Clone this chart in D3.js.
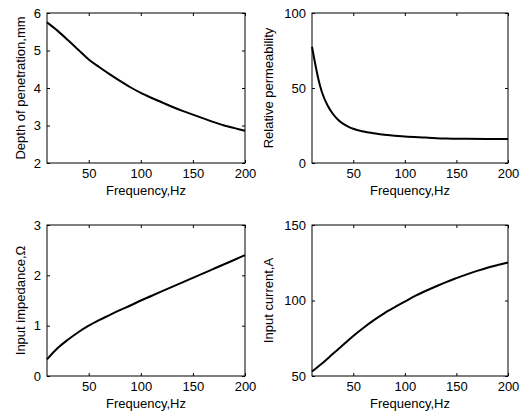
<!DOCTYPE html>
<html>
<head>
<meta charset="utf-8">
<script src="https://cdn.jsdelivr.net/npm/d3@7"></script>
<style>
  body { margin: 0; background: #fff; }
  text { font-family: "Liberation Sans", Arial, sans-serif; font-size: 13px; fill: #000; }
</style>
</head>
<body>
<svg id="chart" width="521" height="418"></svg>
<script>
// ----------------- DATA ----------------- //
var freqTicks = [50, 100, 150, 200];

var depthFreq = [10, 20, 30, 40, 50, 60, 70, 80, 90, 100, 110, 120, 130, 140, 150, 160, 170, 180, 190, 200];
var depth = [5.75, 5.53, 5.28, 5.02, 4.76, 4.56, 4.37, 4.19, 4.02, 3.87, 3.74, 3.62, 3.5, 3.39, 3.29, 3.19, 3.09, 3.0, 2.93, 2.86];

var permFreq = [10, 12, 14, 16, 18, 20, 25, 30, 35, 40, 45, 50, 60, 70, 80, 90, 100, 120, 140, 160, 180, 200];
var permeability = [77.5, 70, 63, 56.5, 51, 46.5, 38.5, 33, 29, 26.2, 24.3, 22.8, 21, 19.8, 18.8, 18.2, 17.7, 17, 16.3, 16.1, 16, 16];

var impFreq = [10, 20, 30, 40, 50, 60, 70, 80, 90, 100, 110, 120, 130, 140, 150, 160, 170, 180, 190, 200];
var impedance = [0.33, 0.55, 0.72, 0.87, 1.0, 1.11, 1.21, 1.31, 1.4, 1.5, 1.59, 1.68, 1.77, 1.86, 1.95, 2.04, 2.13, 2.22, 2.31, 2.4];

var curFreq = [10, 20, 30, 40, 50, 60, 70, 80, 90, 100, 110, 120, 130, 140, 150, 160, 170, 180, 190, 200];
var current = [53, 58.5, 64.5, 70.5, 76.5, 82, 87, 91.5, 95.5, 99.3, 103, 106.3, 109.3, 112.2, 114.8, 117.3, 119.6, 121.7, 123.5, 125.2];

// panel setup: box position, y-range and label
var panels = [
    { x: depthFreq, y: depth, yDomain: [2, 6], yTicks: [2, 3, 4, 5, 6], yLabel: 'Depth of penetration,mm',
      left: 47, right: 245, top: 13, bottom: 163, labelX: 25 },
    { x: permFreq, y: permeability, yDomain: [0, 100], yTicks: [0, 50, 100], yLabel: 'Relative permeability',
      left: 312, right: 508, top: 13, bottom: 163, labelX: 273 },
    { x: impFreq, y: impedance, yDomain: [0, 3], yTicks: [0, 1, 2, 3], yLabel: 'Input impedance,\u03A9',
      left: 47, right: 245, top: 225, bottom: 376, labelX: 25 },
    { x: curFreq, y: current, yDomain: [50, 150], yTicks: [50, 100, 150], yLabel: 'Input current,A',
      left: 312, right: 508, top: 225, bottom: 376, labelX: 273 }
];

var svg = d3.select('#chart');
svg.append('rect').attr('width', 521).attr('height', 418).attr('fill', '#fff');

// ----------------- DRAW PANELS ----------------- //
panels.forEach(function (p) {
    var x = d3.scaleLinear().domain([10, 200]).range([p.left, p.right]);
    var y = d3.scaleLinear().domain(p.yDomain).range([p.bottom, p.top]);
    var g = svg.append('g');
    var fmt = d3.format('d');

    // inward ticks on all four sides, labels only bottom/left
    g.append('g')
        .attr('transform', 'translate(0,' + p.bottom + ')')
        .call(d3.axisBottom(x).tickValues(freqTicks).tickFormat(fmt).tickSizeInner(-3).tickSizeOuter(0).tickPadding(6));
    g.append('g')
        .attr('transform', 'translate(0,' + p.top + ')')
        .call(d3.axisTop(x).tickValues(freqTicks).tickSizeInner(-3).tickSizeOuter(0).tickFormat(''));
    g.append('g')
        .attr('transform', 'translate(' + p.left + ',0)')
        .call(d3.axisLeft(y).tickValues(p.yTicks).tickFormat(fmt).tickSizeInner(-3).tickSizeOuter(0).tickPadding(6));
    g.append('g')
        .attr('transform', 'translate(' + p.right + ',0)')
        .call(d3.axisRight(y).tickValues(p.yTicks).tickSizeInner(-3).tickSizeOuter(0).tickFormat(''));

    g.selectAll('.domain').remove();
    g.selectAll('.tick line').attr('stroke', '#000');
    g.selectAll('.tick text')
        .attr('font-family', '"Liberation Sans", Arial, sans-serif')
        .attr('font-size', 13)
        .attr('fill', '#000');

    g.append('rect')
        .attr('x', p.left).attr('y', p.top)
        .attr('width', p.right - p.left).attr('height', p.bottom - p.top)
        .attr('fill', 'none').attr('stroke', '#000').attr('stroke-width', 1);

    var line = d3.line()
        .x(function (d, i) { return x(p.x[i]); })
        .y(function (d) { return y(d); })
        .curve(d3.curveMonotoneX);

    g.append('path')
        .datum(p.y)
        .attr('d', line)
        .attr('fill', 'none')
        .attr('stroke', '#000')
        .attr('stroke-width', 2);

    g.append('text')
        .attr('x', (p.left + p.right) / 2)
        .attr('y', p.bottom + 32)
        .attr('text-anchor', 'middle')
        .text('Frequency,Hz');

    g.append('text')
        .attr('transform', 'translate(' + p.labelX + ',' + (p.top + p.bottom) / 2 + ') rotate(-90)')
        .attr('text-anchor', 'middle')
        .text(p.yLabel);
});
</script>
</body>
</html>
